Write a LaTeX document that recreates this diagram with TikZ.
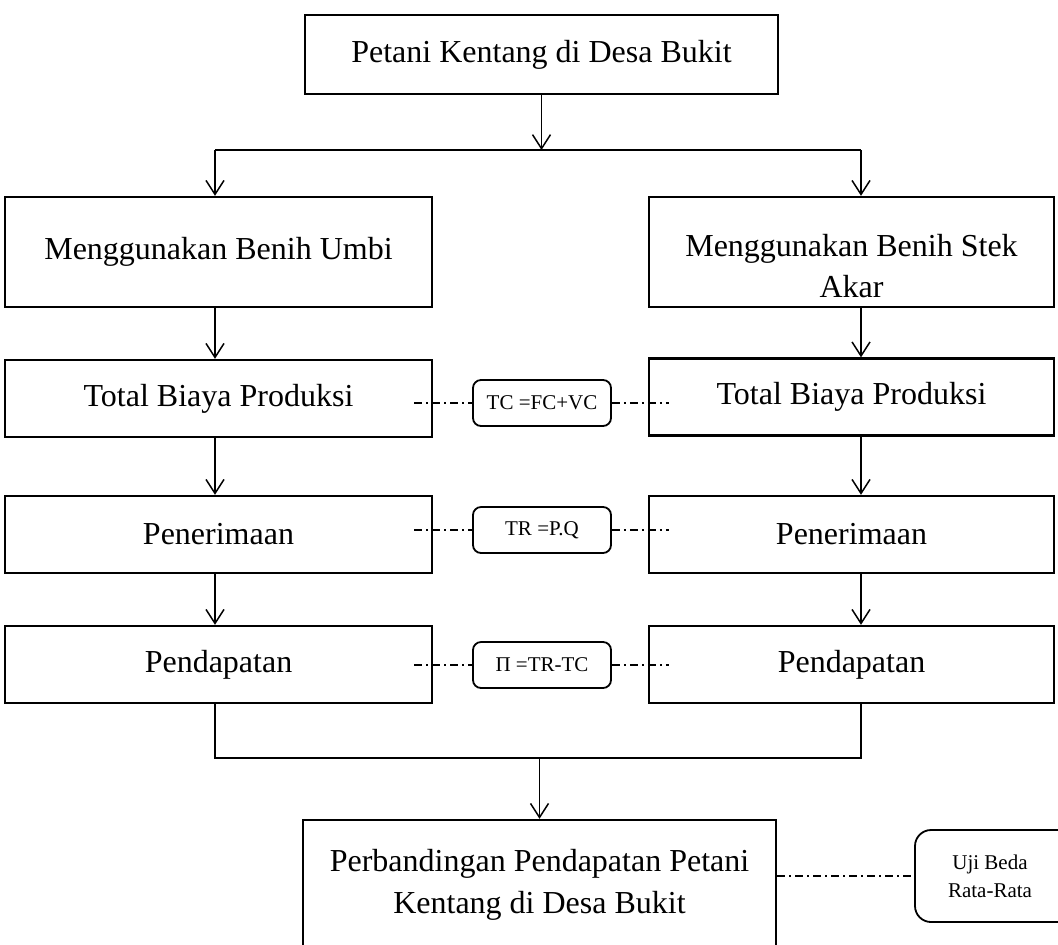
\documentclass[tikz,border=0pt]{standalone}
\usepackage{fontspec}
\setmainfont{Liberation Serif}
\usepackage{tikz}
\usetikzlibrary{arrows.meta}
\tikzset{
	kotaknode/.style={rectangle, draw=black, line width=1.2pt, fill=white, inner sep=0pt, align=center, font=\fontsize{16}{21}\selectfont},
	rumusnode/.style={rectangle, rounded corners=4pt, draw=black, line width=0.9pt, fill=white, inner sep=0pt, align=center, minimum width=69pt, minimum height=23pt, font=\fontsize{10.5}{14}\selectfont},
	panah/.style={line width=0.75pt, -{Straight Barb[length=7pt, width=9pt, line width=0.75pt]}},
	garis/.style={line width=0.75pt},
	putus/.style={line width=0.75pt, dash pattern=on 4pt off 2pt on 1pt off 2pt}
}
\begin{document}
\begin{tikzpicture}[x=0.5pt, y=-0.5pt]
			\clip (0,0) rectangle (1058,944);
			\coordinate (kolKiri) at (215,0);
			\coordinate (kolKanan) at (861,0);
			\coordinate (cabang) at (541.5,150);
			\coordinate (gabung) at (539.5,758);
			
			\node[kotaknode, minimum width=236.5pt, minimum height=39.5pt] (atas) at (541.5,54.5) {Petani Kentang di Desa Bukit};
			\node[kotaknode, minimum width=213.5pt, minimum height=55pt] (umbi) at (218.5,252) {Menggunakan Benih Umbi};
			\node[kotaknode, minimum width=202.5pt, minimum height=55pt, label={[font=\fontsize{16}{20.5}\selectfont, align=center, yshift=-7pt]center:Menggunakan Benih Stek\\Akar}] (stek) at (851.5,252) {};
			\node[kotaknode, minimum width=213.5pt, minimum height=38.5pt] (biayaKiri) at (218.5,398.5) {Total Biaya Produksi};
			\node[kotaknode, minimum width=202.5pt, minimum height=38.5pt] (biayaKanan) at (851.5,397) {Total Biaya Produksi};
			\node[kotaknode, minimum width=213.5pt, minimum height=38.5pt] (terimaKiri) at (218.5,534.5) {Penerimaan};
			\node[kotaknode, minimum width=202.5pt, minimum height=38.5pt] (terimaKanan) at (851.5,534.5) {Penerimaan};
			\node[kotaknode, minimum width=213.5pt, minimum height=38.5pt] (dapatKiri) at (218.5,664.5) {Pendapatan};
			\node[kotaknode, minimum width=202.5pt, minimum height=38.5pt] (dapatKanan) at (851.5,664.5) {Pendapatan};
			\node[kotaknode, minimum width=236.5pt, minimum height=65pt] (banding) at (539.5,885) {Perbandingan Pendapatan Petani\\Kentang di Desa Bukit};
			
			\node[rumusnode] (tc) at (542,403) {TC =FC+VC};
			\node[rumusnode] (tr) at (542,530) {TR =P.Q};
			\node[rumusnode] (pi) at (542,665) {Π =TR-TC};
			\node[rumusnode, rounded corners=8pt, minimum width=85pt, minimum height=46pt, label={[font=\fontsize{10.5}{14}\selectfont, align=center, xshift=-5pt]center:Uji Beda\\Rata-Rata}] (uji) at (1000,876) {};
			
			\draw[panah] (atas.south) -- (atas.south |- cabang);
			\draw[garis] (kolKiri |- cabang) -- (kolKanan |- cabang);
			\draw[panah] (kolKiri |- cabang) -- (kolKiri |- umbi.north);
			\draw[panah] (kolKanan |- cabang) -- (kolKanan |- stek.north);
			\foreach \a/\b in {umbi/biayaKiri, biayaKiri/terimaKiri, terimaKiri/dapatKiri}
				\draw[panah] (kolKiri |- \a.south) -- (kolKiri |- \b.north);
			\foreach \a/\b in {stek/biayaKanan, biayaKanan/terimaKanan, terimaKanan/dapatKanan}
				\draw[panah] (kolKanan |- \a.south) -- (kolKanan |- \b.north);
			\draw[garis] (kolKiri |- dapatKiri.south) -- (kolKiri |- gabung) -- (kolKanan |- gabung) -- (kolKanan |- dapatKanan.south);
			\draw[panah] (gabung) -- (banding.north);
			
			\foreach \k/\r/\n in {biayaKiri/tc/biayaKanan, terimaKiri/tr/terimaKanan, dapatKiri/pi/dapatKanan}{
				\draw[putus] ([xshift=-9.5pt]\k.east |- \r.west) -- (\r.west);
				\draw[putus] (\r.east) -- ([xshift=10.5pt]\n.west |- \r.east);
			}
			\draw[putus] (banding.east |- uji.west) -- (uji.west);
		\end{tikzpicture}
\end{document}
